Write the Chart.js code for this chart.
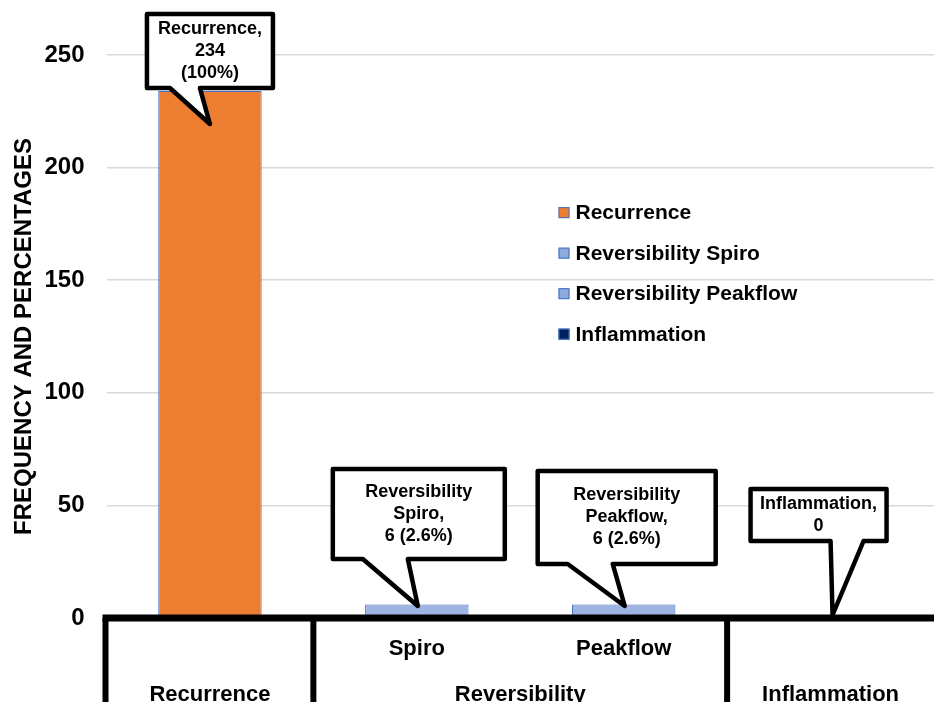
<!DOCTYPE html>
<html>
<head>
<meta charset="utf-8">
<script src="https://cdn.jsdelivr.net/npm/chart.js@4.4.0/dist/chart.umd.min.js"></script>
<style>
  html, body { margin: 0; padding: 0; background: #fff; }
  #wrap { width: 934px; height: 702px; position: relative; }
</style>
</head>
<body>
<div id="wrap"><canvas id="freqChart"></canvas></div>
<script>
// chart data
const categories = ['Recurrence', 'Spiro', 'Peakflow', 'Inflammation'];
const innerLabels = ['', 'Spiro', 'Peakflow', ''];
const groupLabels = ['Recurrence', 'Reversibility', 'Inflammation'];
const groupSpans = [1, 2, 1];
const seriesNames = ['Recurrence', 'Reversibility Spiro', 'Reversibility Peakflow', 'Inflammation'];
const counts = [234, 6, 6, 0];
const calloutText = [
    ['Recurrence,', '234', '(100%)'],
    ['Reversibility', 'Spiro,', '6 (2.6%)'],
    ['Reversibility', 'Peakflow,', '6 (2.6%)'],
    ['Inflammation,', '0']
];
const yTicks = [0, 50, 100, 150, 200, 250];

// styling
const FONT = '"Liberation Sans", Arial, Helvetica, sans-serif';
const fills = ['#ed7d31', '#a0b4e3', '#a0b4e3', '#002060'];
const legendFills = ['#ed7d31', '#8faadc', '#8faadc', '#002060'];
const edge = '#4472c4';
// callout shapes relative to the pointed spot (tip)
const calloutStyle = [
    { tip: [0, 33], box: [-63, -110, 63, -36], tail: [-40, -10] },
    { tip: [1, 1.5], box: [-85, -137, 87, -47], tail: [-55, -10] },
    { tip: [1, 1.5], box: [-87, -135, 91, -42], tail: [-57, -12] },
    { tip: [2, -3], box: [-82, -126, 54, -74], tail: [-2, 31] }
];

const axisPlugin = {
    id: 'multiAxis',
    afterDatasetsDraw(chart) {
        const { ctx, chartArea, scales } = chart;
        const x = scales.x;
        const y0 = scales.y.getPixelForValue(0);
        const half = (x.getPixelForValue(1) - x.getPixelForValue(0)) / 2;
        ctx.save();
        ctx.strokeStyle = '#000';
        // separators
        ctx.lineWidth = 6;
        let idx = 0;
        const bounds = [chartArea.left - 1];
        groupSpans.forEach(s => { idx += s; if (idx < categories.length) bounds.push(x.getPixelForValue(idx) - half); });
        bounds.forEach(bx => {
            ctx.beginPath();
            ctx.moveTo(bx, y0);
            ctx.lineTo(bx, chart.height + 5);
            ctx.stroke();
        });
        // base line
        ctx.lineWidth = 7;
        ctx.beginPath();
        ctx.moveTo(chartArea.left - 4, y0);
        ctx.lineTo(chartArea.right + 2, y0);
        ctx.stroke();
        // labels
        ctx.fillStyle = '#000';
        ctx.font = 'bold 22px ' + FONT;
        ctx.textAlign = 'center';
        ctx.textBaseline = 'middle';
        innerLabels.forEach((t, i) => {
            if (t) ctx.fillText(t, x.getPixelForValue(i), y0 + 31);
        });
        idx = 0;
        groupLabels.forEach((t, g) => {
            const a = x.getPixelForValue(idx);
            const b = x.getPixelForValue(idx + groupSpans[g] - 1);
            ctx.fillText(t, (a + b) / 2, y0 + 77);
            idx += groupSpans[g];
        });
        ctx.restore();
    }
};

const calloutPlugin = {
    id: 'callouts',
    afterDatasetsDraw(chart) {
        const ctx = chart.ctx;
        ctx.save();
        calloutStyle.forEach((st, i) => {
            const el = chart.getDatasetMeta(i).data[i];
            const tx = el.x + st.tip[0];
            const ty = el.y + st.tip[1];
            const [l, t, r, b] = [tx + st.box[0], ty + st.box[1], tx + st.box[2], ty + st.box[3]];
            ctx.beginPath();
            ctx.moveTo(l, t);
            ctx.lineTo(r, t);
            ctx.lineTo(r, b);
            ctx.lineTo(tx + st.tail[1], b);
            ctx.lineTo(tx, ty);
            ctx.lineTo(tx + st.tail[0], b);
            ctx.lineTo(l, b);
            ctx.closePath();
            ctx.fillStyle = '#fff';
            ctx.fill();
            ctx.lineWidth = 4.5;
            ctx.lineJoin = 'round';
            ctx.strokeStyle = '#000';
            ctx.stroke();
            const lines = calloutText[i];
            const lh = 22;
            const cy = (t + b) / 2 - (lines.length - 1) * lh / 2;
            ctx.fillStyle = '#000';
            ctx.font = 'bold 18px ' + FONT;
            ctx.textAlign = 'center';
            ctx.textBaseline = 'middle';
            lines.forEach((s, k) => ctx.fillText(s, (l + r) / 2, cy + k * lh));
        });
        ctx.restore();
    }
};

const legendPlugin = {
    id: 'innerLegend',
    afterDraw(chart) {
        const ctx = chart.ctx;
        const yScale = chart.scales.y;
        const lx = chart.chartArea.left + 452;
        const ly = yScale.getPixelForValue(180);
        ctx.save();
        ctx.font = 'bold 21px ' + FONT;
        ctx.textBaseline = 'middle';
        ctx.textAlign = 'left';
        seriesNames.forEach((name, i) => {
            const cy = ly + i * 40.5;
            ctx.fillStyle = legendFills[i];
            ctx.fillRect(lx, cy - 5.5, 11, 11);
            ctx.strokeStyle = edge;
            ctx.lineWidth = 1;
            ctx.strokeRect(lx + 0.5, cy - 5, 10, 10);
            ctx.fillStyle = '#000';
            ctx.fillText(name, lx + 17, cy + 1);
        });
        ctx.restore();
    }
};

new Chart(document.getElementById('freqChart'), {
    type: 'bar',
    data: {
        labels: categories,
        datasets: seriesNames.map((name, i) => ({
            label: name,
            data: counts.map((v, j) => (j === i ? v : null)),
            backgroundColor: fills[i],
            borderColor: edge,
            borderWidth: 1,
            categoryPercentage: 1,
            barPercentage: 0.5
        }))
    },
    options: {
        responsive: true,
        maintainAspectRatio: false,
        animation: false,
        layout: { padding: { top: 55, bottom: 84, left: 0, right: 0 } },
        plugins: {
            legend: { display: false },
            tooltip: { enabled: false }
        },
        scales: {
            x: {
                stacked: true,
                display: false
            },
            y: {
                stacked: true,
                min: 0,
                max: 250,
                afterBuildTicks: s => { s.ticks = yTicks.map(v => ({ value: v })); },
                afterFit: s => { s.width = 106.5; },
                ticks: {
                    padding: 22,
                    color: '#000',
                    font: { family: FONT, size: 24, weight: 'bold' }
                },
                grid: { color: '#d9d9d9', lineWidth: 1.5, drawTicks: false },
                border: { display: false },
                title: {
                    display: true,
                    text: 'FREQUENCY AND PERCENTAGES',
                    color: '#000',
                    padding: { top: 10, bottom: 0 },
                    font: { family: FONT, size: 24, weight: 'bold' }
                }
            }
        }
    },
    plugins: [axisPlugin, calloutPlugin, legendPlugin]
});
</script>
</body>
</html>
